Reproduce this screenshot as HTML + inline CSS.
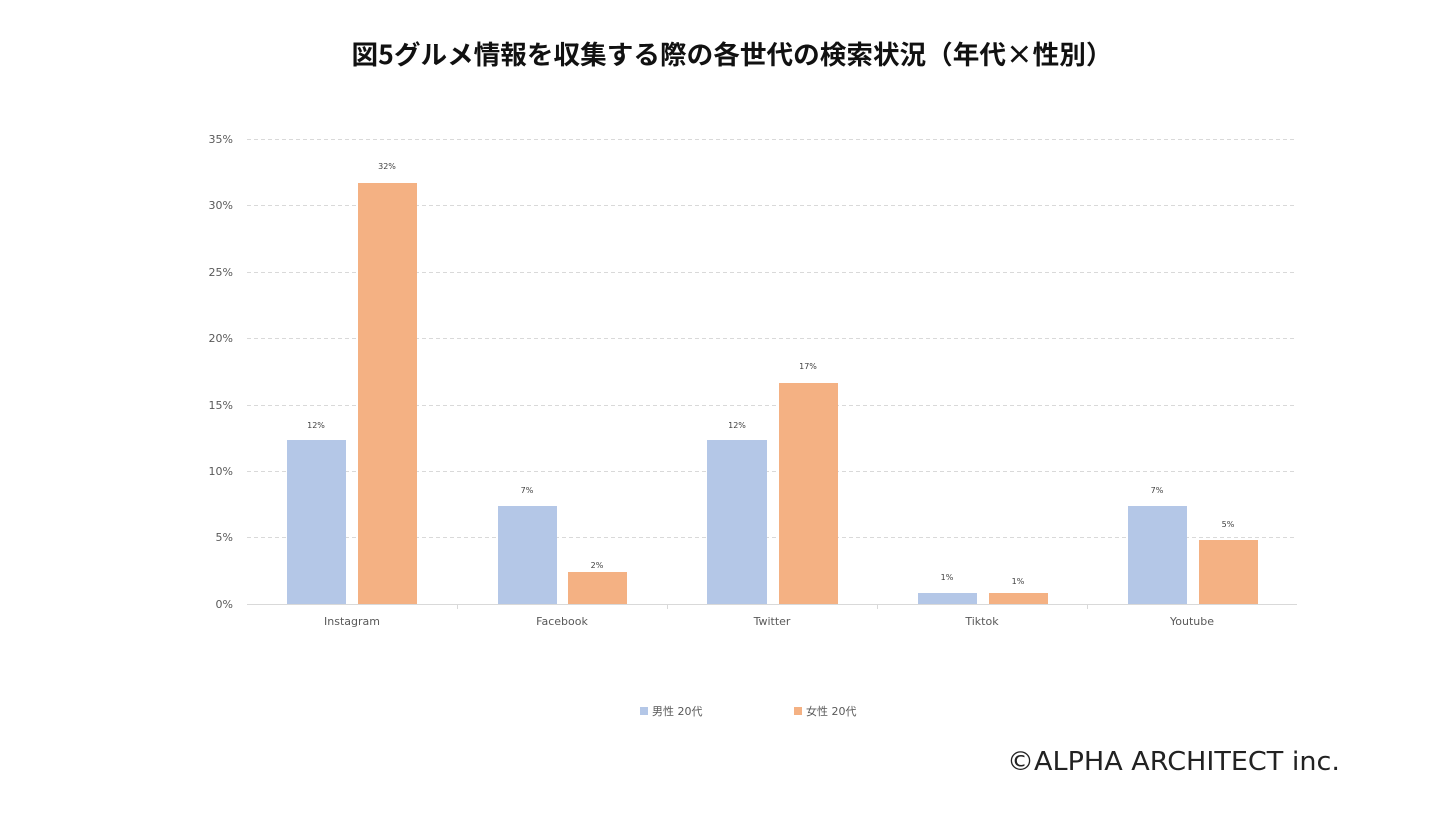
<!DOCTYPE html>
<html><head><meta charset="utf-8"><style>
body{margin:0;width:1440px;height:809px;background:#fff;overflow:hidden;font-family:"Liberation Sans","Noto Sans CJK JP",sans-serif;}
</style></head><body>
<svg width="1440" height="809" viewBox="0 0 1440 809" xmlns="http://www.w3.org/2000/svg" font-family="DejaVu Sans, Noto Sans CJK JP, sans-serif">
<text x="732" y="64" text-anchor="middle" font-size="26" font-weight="bold" fill="#111" font-family="Noto Sans CJK JP, sans-serif" textLength="761" lengthAdjust="spacingAndGlyphs">図5グルメ情報を収集する際の各世代の検索状況（年代×性別）</text>
<g stroke="#d9d9d9" stroke-dasharray="4,3" stroke-width="1">
<line x1="247" x2="1297" y1="139.5" y2="139.5"/><line x1="247" x2="1297" y1="205.5" y2="205.5"/>
<line x1="247" x2="1297" y1="272.5" y2="272.5"/><line x1="247" x2="1297" y1="338.5" y2="338.5"/>
<line x1="247" x2="1297" y1="405.5" y2="405.5"/><line x1="247" x2="1297" y1="471.5" y2="471.5"/>
<line x1="247" x2="1297" y1="537.5" y2="537.5"/>
</g>
<g font-size="11" fill="#595959" text-anchor="end">
<text x="233" y="143">35%</text><text x="233" y="209">30%</text><text x="233" y="276">25%</text>
<text x="233" y="342">20%</text><text x="233" y="409">15%</text><text x="233" y="475">10%</text>
<text x="233" y="541">5%</text><text x="233" y="608">0%</text>
</g>
<g fill="#b4c7e7">
<rect x="287" y="440" width="59" height="164"/><rect x="498" y="506" width="59" height="98"/>
<rect x="707" y="440" width="60" height="164"/><rect x="918" y="593" width="59" height="11"/>
<rect x="1128" y="506" width="59" height="98"/>
</g>
<g fill="#f4b183">
<rect x="358" y="183" width="59" height="421"/><rect x="568" y="572" width="59" height="32"/>
<rect x="779" y="383" width="59" height="221"/><rect x="989" y="593" width="59" height="11"/>
<rect x="1199" y="540" width="59" height="64"/>
</g>
<line x1="247" x2="1297" y1="604.5" y2="604.5" stroke="#d9d9d9"/>
<g stroke="#d9d9d9"><line x1="457.5" x2="457.5" y1="604" y2="609"/><line x1="667.5" x2="667.5" y1="604" y2="609"/><line x1="877.5" x2="877.5" y1="604" y2="609"/><line x1="1087.5" x2="1087.5" y1="604" y2="609"/></g>
<g font-size="8" fill="#404040" text-anchor="middle">
<text x="316" y="428">12%</text><text x="387" y="169">32%</text>
<text x="527" y="493">7%</text><text x="597" y="568">2%</text>
<text x="737" y="428">12%</text><text x="808" y="369">17%</text>
<text x="947" y="580">1%</text><text x="1018" y="584">1%</text>
<text x="1157" y="493">7%</text><text x="1228" y="527">5%</text>
</g>
<g font-size="11" fill="#595959" text-anchor="middle">
<text x="352" y="625">Instagram</text><text x="562" y="625">Facebook</text>
<text x="772" y="625">Twitter</text><text x="982" y="625">Tiktok</text><text x="1192" y="625">Youtube</text>
</g>
<rect x="640" y="707" width="8" height="8" fill="#b4c7e7"/>
<text x="652" y="715" font-size="11" fill="#595959">男性 20代</text>
<rect x="794" y="707" width="8" height="8" fill="#f4b183"/>
<text x="806" y="715" font-size="11" fill="#595959">女性 20代</text>
<text x="1340" y="770" text-anchor="end" font-size="26" fill="#222" textLength="333" lengthAdjust="spacingAndGlyphs">©ALPHA ARCHITECT inc.</text>
</svg>
</body></html>
